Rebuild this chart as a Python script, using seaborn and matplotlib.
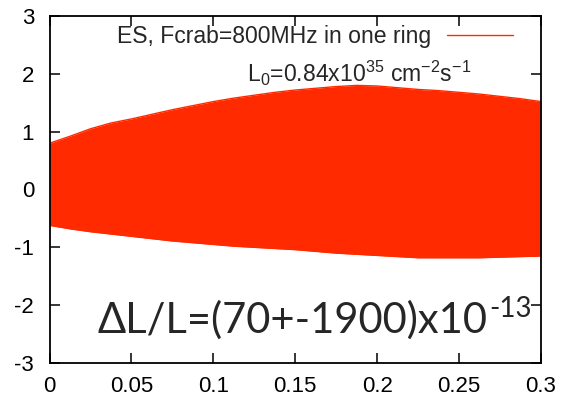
import matplotlib
matplotlib.use("Agg")
import matplotlib.pyplot as plt
import seaborn as sns
import pandas as pd

# ---- data (envelope of the dense oscillation) ----
turns = [0.0, 0.0125, 0.025, 0.0375, 0.05, 0.0625, 0.075, 0.0875, 0.1, 0.1125,
         0.125, 0.1375, 0.15, 0.1625, 0.175, 0.1875, 0.2, 0.2125, 0.225, 0.2375,
         0.25, 0.2625, 0.275, 0.2875, 0.3]
upper = [0.80, 0.92, 1.05, 1.15, 1.22, 1.30, 1.38, 1.45, 1.52, 1.58,
         1.63, 1.68, 1.72, 1.75, 1.78, 1.80, 1.79, 1.76, 1.73, 1.71,
         1.68, 1.65, 1.61, 1.57, 1.52]
lower = [-0.62, -0.68, -0.73, -0.77, -0.81, -0.85, -0.89, -0.92, -0.95, -0.98,
         -1.00, -1.02, -1.04, -1.07, -1.10, -1.12, -1.14, -1.16, -1.18, -1.18,
         -1.18, -1.18, -1.17, -1.16, -1.15]
xticks = [0, 0.05, 0.1, 0.15, 0.2, 0.25, 0.3]
xticklabels = ["0", "0.05", "0.1", "0.15", "0.2", "0.25", "0.3"]
yticks = [-3, -2, -1, 0, 1, 2, 3]
yticklabels = ["-3", "-2", "-1", "0", "1", "2", "3"]
series_label = "ES, Fcrab=800MHz in one ring"
lum_label = r"L$_0$=0.84x10$^{35}$ cm$^{-2}$s$^{-1}$"
dl_main = "\u0394L/L=(70+-1900)x10"
dl_sup = "-13"

RED = "#ff2a00"

sns.set_style("ticks")
plt.rcParams["font.family"] = ["Liberation Sans", "DejaVu Sans"]
plt.rcParams["mathtext.fontset"] = "custom"
plt.rcParams["mathtext.rm"] = "Liberation Sans"
plt.rcParams["mathtext.it"] = "Liberation Sans"
plt.rcParams["mathtext.default"] = "regular"

W, H = 563, 396
fig = plt.figure(figsize=(W / 100, H / 100), dpi=100)
ax = fig.add_axes([49.5 / W, 1 - 363 / H, (541 - 49.5) / W, (363 - 16) / H])

df = pd.DataFrame({"t": turns, "up": upper, "lo": lower})
ax.fill_between(df["t"], df["lo"], df["up"], color=RED, linewidth=0)
sns.lineplot(data=df, x="t", y="up", color=RED, linewidth=1.0, ax=ax, label=series_label)
sns.lineplot(data=df, x="t", y="lo", color=RED, linewidth=1.0, ax=ax, legend=False)

ax.set_xlim(0, 0.3)
ax.set_ylim(-3, 3)
ax.set_xticks(xticks)
ax.set_xticklabels(xticklabels)
ax.set_yticks(yticks)
ax.set_yticklabels(yticklabels)
ax.set_xlabel("")
ax.set_ylabel("")
for s in ax.spines.values():
    s.set_visible(True)
    s.set_linewidth(1.3)
    s.set_color("black")
ax.tick_params(direction="in", length=7, width=1.1, labelsize=16, colors="black",
               top=True, right=True)
ax.tick_params(axis="x", pad=9.5)
ax.tick_params(axis="y", pad=11)

leg = ax.legend(loc="upper right", bbox_to_anchor=(513 / W, 1 - 25 / H),
                bbox_transform=fig.transFigure, frameon=False, markerfirst=False,
                fontsize=16.6, handlelength=2.85, handletextpad=0.7,
                borderpad=0, borderaxespad=0)

fig.text(247 / W, 1 - 82 / H, lum_label, fontsize=16.6, ha="left", va="baseline")

t1 = fig.text(98 / W, 1 - 333 / H, dl_main, fontsize=30, ha="left", va="baseline",
              family=["Lato", "Open Sans", "DejaVu Sans"])
fig.canvas.draw()
bb = t1.get_window_extent()
fig.text(bb.x1 / W + 0.002, 1 - 317 / H, dl_sup, fontsize=20, ha="left", va="baseline",
         family=["Lato", "Open Sans", "DejaVu Sans"])

fig.savefig("out.png", dpi=100)
